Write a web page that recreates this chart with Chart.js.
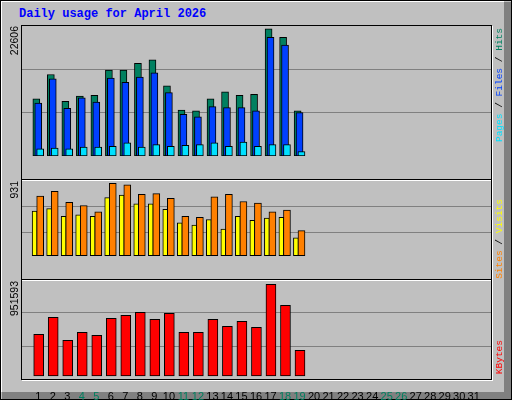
<!DOCTYPE html>
<html><head><meta charset="utf-8">
<script src="https://cdn.jsdelivr.net/npm/chart.js@4"></script>
<style>
html,body{margin:0;padding:0;background:#C0C0C0;}
#wrap{position:relative;width:512px;height:400px;overflow:hidden;background:#C0C0C0;}
#outer{position:absolute;left:0;top:0;width:510px;height:398px;border:1px solid #000;box-sizing:content-box;}
#shR{position:absolute;left:504px;top:2px;width:7px;height:397px;background:#808080;}
#shB{position:absolute;left:2px;top:392px;width:509px;height:7px;background:#808080;}
#hiT{position:absolute;left:1px;top:1px;width:503px;height:1px;background:#fff;}
#hiL{position:absolute;left:1px;top:1px;width:1px;height:391px;background:#fff;}
canvas{position:absolute;}
.frame{position:absolute;border:1px solid #000;box-sizing:border-box;pointer-events:none;box-shadow:1px 1px 0 #fff;}
#title{position:absolute;left:19px;top:7px;font:bold 12px "Liberation Mono",monospace;color:#0000FF;white-space:nowrap;}
.vt{position:absolute;writing-mode:vertical-rl;transform:rotate(180deg);white-space:nowrap;}
.yl{font:10.5px "Liberation Sans",Arial,sans-serif;color:#000;}
.rl{font:9.5px "Liberation Mono",monospace;color:#000;}
</style></head>
<body><div id="wrap">
<div id="outer"></div><div id="shR"></div><div id="shB"></div><div id="hiT"></div><div id="hiL"></div>
<div id="title">Daily usage for April 2026</div>
<canvas id="c1"></canvas><canvas id="c2"></canvas><canvas id="c3"></canvas>
<div class="frame" style="left:21px;top:25px;width:471px;height:155px"></div>
<div class="frame" style="left:21px;top:179px;width:471px;height:101px"></div>
<div class="frame" style="left:21px;top:279px;width:471px;height:101px"></div>
<div class="vt yl" style="left:8px;top:26px">22606</div>
<div class="vt yl" style="left:8px;top:181px">931</div>
<div class="vt yl" style="left:8px;top:281px">951593</div>
<div class="vt rl" style="left:494px;top:28px"><span style="color:#00E0FF">Pages</span> / <span style="color:#0040FF">Files</span> / <span style="color:#008060">Hits</span></div>
<div class="vt rl" style="left:494px;top:199px"><span style="color:#FF8000">Sites</span> / <span style="color:#FFFF00">Visits</span></div>
<div class="vt rl" style="left:494px;top:340px"><span style="color:#FF0000">KBytes</span></div>
</div>
<script>
const days = [1,2,3,4,5,6,7,8,9,10,11,12,13,14,15,16,17,18,19,20,21,22,23,24,25,26,27,28,29,30,31];
const weekendDays = [4,5,11,12,18,19,25,26];
const hits  = [10180,14490,9720,10640,10800,15260,15260,16490,17100,12490,8180,8030,10180,11410,10800,10950,22606,21100,8030];
const files = [9410,13720,8490,10330,9570,13870,13100,14030,14800,11260,7410,6950,8780,8610,8610,8030,21100,19720,7720];
const pages = [1260,1410,1260,1570,1570,1720,2340,1570,2030,1720,1880,2030,2340,1720,2490,1720,2030,2030,800];
const sites = [740,797,665,627,552,891,872,759,768,712,496,486,731,759,674,655,552,571,326];
const visits= [561,590,496,514,496,721,750,646,646,580,420,392,458,345,496,449,477,486,242];
const kbytes= [429660,593060,371980,448880,420040,583450,612280,641120,573840,631510,448880,448880,573840,506550,554610,496940,910260,708400,275860];
const maxHits = 22606, maxSites = 931, maxKB = 951593;

function pts(vals, off){ return vals.map((v,i)=>({x:days[i]+off, y:v})); }
function ds(vals, off, color, w, order, base){
  const d = {data:pts(vals,off), backgroundColor:color, borderColor:'#000', borderWidth:1,
    borderSkipped:false, barThickness:w, grouped:false, order:order};
  if (base!==undefined) d.base = base;
  return d;
}
function mk(id, left, top, w, h, datasets, ymax, showX){
  const cv = document.getElementById(id);
  cv.width = w; cv.height = h;
  cv.style.left = left+'px'; cv.style.top = top+'px';
  cv.style.width = w+'px'; cv.style.height = h+'px';
  return new Chart(cv, {
    type:'bar',
    data:{datasets},
    options:{
      responsive:false, maintainAspectRatio:false, animation:false, devicePixelRatio:1,
      layout:{padding:0},
      plugins:{legend:{display:false}, tooltip:{enabled:false}},
      scales:{
        x:{type:'linear', min:1-10/15, max:31+10/15, display:showX,
           grid:{display:false}, border:{display:false},
           afterBuildTicks:s=>{s.ticks = days.map(v=>({value:v}));},
           afterFit:s=>{s.height = 21;},
           ticks:{autoSkip:false, maxRotation:0, padding:3,
             font:{family:'"Liberation Sans", Arial', size:11},
             color:c=>weekendDays.includes(c.tick.value)?'#008060':'#000'}},
        y:{min:0, max:ymax, display:true,
           afterBuildTicks:s=>{s.ticks=[{value:ymax/3},{value:2*ymax/3}];},
           afterFit:s=>{s.width=0;},
           ticks:{display:false}, border:{display:false},
           grid:{color:'#808080', lineWidth:1, drawTicks:false}}
      }
    }
  });
}
mk('c1', 21, 26, 470, 151, [
  ds(hits, -0.133, '#008060', 7, 3),
  ds(files, 0, '#0040FF', 7, 2),
  ds(pages, 0.133, '#00E0FF', 7, 1)
], maxHits*151/147.7, false);
mk('c2', 21, 180, 470, 99, [
  ds(visits, -0.25, '#FFFF00', 5, 2, maxSites*3/99),
  ds(sites, 0.133, '#FF8000', 7, 1, maxSites*3/99)
], maxSites, false);
mk('c3', 21, 280, 470, 120, [
  ds(kbytes, 0.03, '#FF0000', 10, 1, maxKB*3/99)
], maxKB, true);
</script>
</body></html>
